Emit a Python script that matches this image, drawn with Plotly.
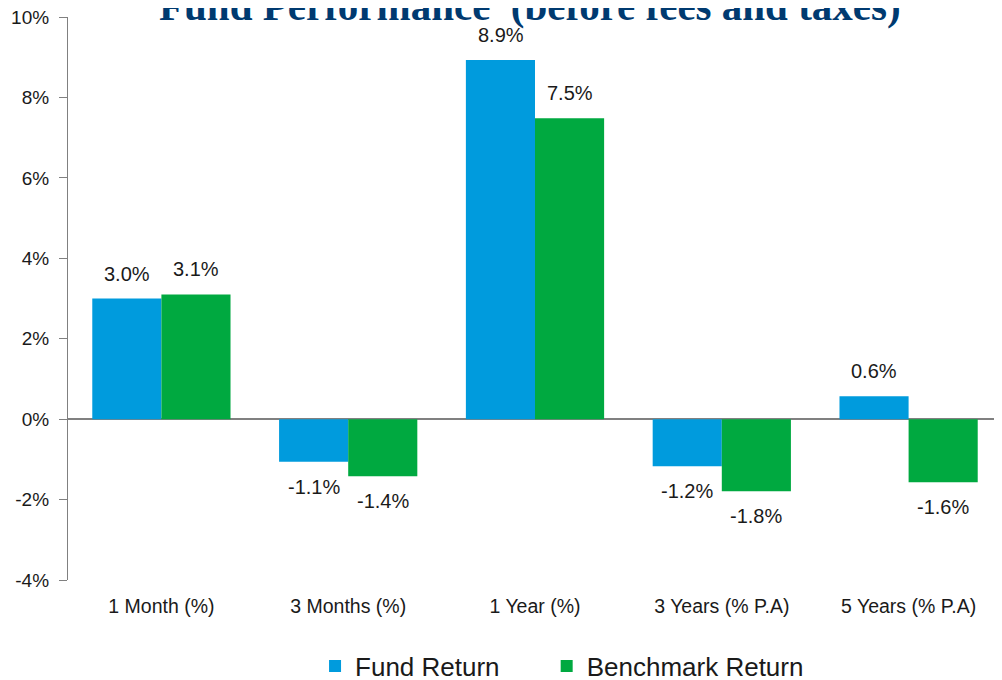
import plotly.graph_objects as go

categories = ["1 Month (%)", "3 Months (%)", "1 Year (%)", "3 Years (% P.A)", "5 Years (% P.A)"]
fund_values = [3.0, -1.06, 8.93, -1.17, 0.57]
bench_values = [3.1, -1.42, 7.48, -1.79, -1.57]
fund_labels = ["3.0%", "-1.1%", "8.9%", "-1.2%", "0.6%"]
bench_labels = ["3.1%", "-1.4%", "7.5%", "-1.8%", "-1.6%"]
y_ticks = [-4, -2, 0, 2, 4, 6, 8, 10]
y_tick_labels = ["-4%", "-2%", "0%", "2%", "4%", "6%", "8%", "10%"]
title_text = "Fund Performance  (before fees and taxes)"

FUND_COLOR = "#009BDD"
BENCH_COLOR = "#00A940"
FONT = "Liberation Sans, Arial, sans-serif"

fig = go.Figure()
fig.add_trace(go.Bar(name="Fund Return", x=categories, y=fund_values, legend="legend",
                     marker=dict(color=FUND_COLOR, line=dict(width=0))))
fig.add_trace(go.Bar(name="Benchmark Return", x=categories, y=bench_values, legend="legend2",
                     marker=dict(color=BENCH_COLOR, line=dict(width=0))))

bar_offset = 34.5
annotations = []
for cat, v, lab in zip(categories, fund_values, fund_labels):
    annotations.append(dict(x=cat, y=v, text=lab, showarrow=False, xref="x", yref="y",
                            xshift=-bar_offset, yshift=25 if v >= 0 else -25,
                            font=dict(family=FONT, size=20, color="#1a1a1a")))
for cat, v, lab in zip(categories, bench_values, bench_labels):
    annotations.append(dict(x=cat, y=v, text=lab, showarrow=False, xref="x", yref="y",
                            xshift=bar_offset, yshift=25 if v >= 0 else -25,
                            font=dict(family=FONT, size=20, color="#1a1a1a")))
# chart title (placed so that its top is clipped like in the original)
annotations.append(dict(x=0.4946, y=1, xref="paper", yref="paper", xanchor="center",
                        yanchor="middle", yshift=11, showarrow=False,
                        text="<b>" + title_text + "</b>",
                        font=dict(family="Liberation Serif, Times New Roman, serif",
                                  size=41, color="#003A70")))

legend_style = dict(orientation="h", xanchor="left", y=-0.153, yanchor="middle",
                    font=dict(family=FONT, size=26, color="#1a1a1a"),
                    itemwidth=30, bgcolor="rgba(0,0,0,0)")

fig.update_layout(
    width=994, height=672,
    paper_bgcolor="white", plot_bgcolor="white",
    margin=dict(l=60, r=0, t=9, b=100, autoexpand=False),
    barmode="group", bargap=0.26, bargroupgap=0,
    font=dict(family=FONT, size=17, color="#1a1a1a"),
    showlegend=True,
    legend=dict(x=0.2645, **legend_style),
    legend2=dict(x=0.5125, **legend_style),
    annotations=annotations,
)
fig.update_xaxes(showline=False, showgrid=False, zeroline=False, ticks="",
                 ticklabelstandoff=12,
                 tickfont=dict(family=FONT, size=19.5, color="#1a1a1a"))
fig.update_yaxes(range=[-4, 10], tickvals=y_ticks, ticktext=y_tick_labels,
                 showgrid=False, showline=True, linecolor="#808080", linewidth=1.2,
                 ticks="outside", ticklen=8, tickcolor="#808080",
                 ticklabelstandoff=6, ticklabeloverflow="allow",
                 zeroline=True, zerolinecolor="#808080", zerolinewidth=1.5,
                 tickfont=dict(family=FONT, size=19, color="#1a1a1a"))

fig.write_html("out.html")
